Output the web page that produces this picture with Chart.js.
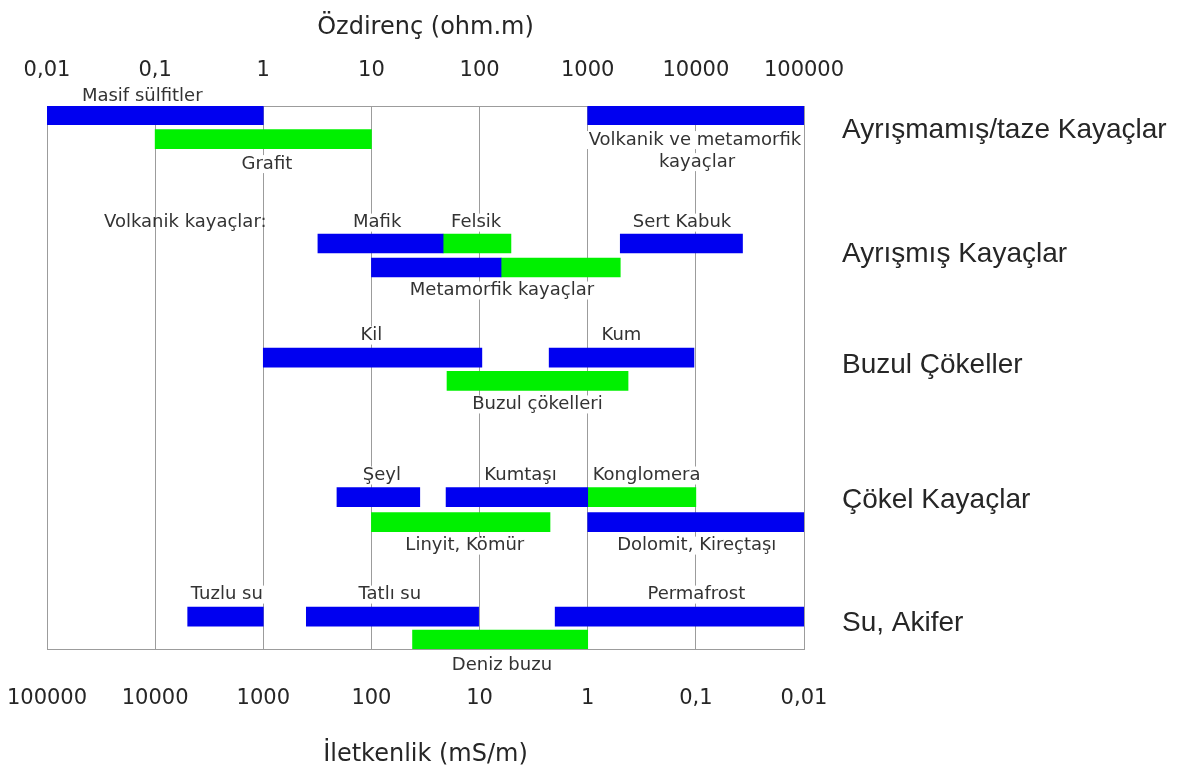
<!DOCTYPE html>
<html lang="tr">
<head>
<meta charset="utf-8">
<title>Özdirenç ve İletkenlik</title>
<script src="https://cdn.jsdelivr.net/npm/chart.js@4.4.1/dist/chart.umd.min.js"></script>
<style>
  html, body { margin: 0; padding: 0; background: #fff; }
  #wrap { position: relative; width: 1185px; height: 773px; }
</style>
</head>
<body>
<div id="wrap"><canvas id="rockChart"></canvas></div>
<script>
// Eksen işaretleri
var resTicks = [0.01, 0.1, 1, 10, 100, 1000, 10000, 100000];
var resTickLabels = ['0,01', '0,1', '1', '10', '100', '1000', '10000', '100000'];
var condTicks = [0.01, 0.1, 1, 10, 100, 1000, 10000, 100000];
var condTickLabels = ['0,01', '0,1', '1', '10', '100', '1000', '10000', '100000'];

// Gruplar (sağdaki yazılar) ve satırları
var groupNames = ['Ayrışmamış/taze Kayaçlar', 'Ayrışmış Kayaçlar', 'Buzul Çökeller', 'Çökel Kayaçlar', 'Su, Akifer'];
var groupRow = [0.98, 6.04, 10.57, 16.08, 21.10];

// Mavi çubuklar - özdirenç aralığı (ohm.m)
var blueNames = ['Masif sülfitler', 'Volkanik ve metamorfik kayaçlar', 'Mafik', 'Sert Kabuk', 'Metamorfik kayaçlar',
                 'Kil', 'Kum', 'Şeyl', 'Kumtaşı', 'Dolomit, Kireçtaşı', 'Tuzlu su', 'Tatlı su', 'Permafrost'];
var blueMin = [0.01, 1000, 3.2, 2000, 10, 1, 440, 4.8, 49, 1000, 0.2, 2.5, 500];
var blueMax = [1, 100000, 46, 27000, 158, 105, 9600, 28, 1000, 100000, 1, 98, 100000];
var blueRow = [0.37, 0.37, 5.61, 5.61, 6.59, 10.27, 10.27, 15.96, 15.96, 16.98, 20.84, 20.84, 20.84];

// Yeşil çubuklar
var greenNames = ['Grafit', 'Felsik', 'Metamorfik kayaçlar', 'Buzul çökelleri', 'Konglomera', 'Linyit, Kömür', 'Deniz buzu'];
var greenMin = [0.1, 46, 158, 50, 1000, 10, 24];
var greenMax = [10, 195, 2000, 2360, 10000, 448, 1000];
var greenRow = [1.35, 5.61, 6.59, 11.22, 15.96, 16.98, 21.78];

// Çubuk yazıları: metin, özdirenç değeri (orta nokta), satır
var noteTexts = ['Masif sülfitler', 'Volkanik ve metamorfik', 'kayaçlar', 'Grafit', 'Volkanik kayaçlar:', 'Mafik', 'Felsik',
                 'Sert Kabuk', 'Metamorfik kayaçlar', 'Kil', 'Kum', 'Buzul çökelleri', 'Şeyl', 'Kumtaşı', 'Konglomera',
                 'Linyit, Kömür', 'Dolomit, Kireçtaşı', 'Tuzlu su', 'Tatlı su', 'Permafrost', 'Deniz buzu'];
var noteAt = [0.076, 9800, 10250, 1.08, 0.19, 11.3, 93, 7450, 161, 10, 2050, 343, 12.5, 239, 3500,
              73, 10200, 0.46, 14.8, 10100, 161];
var noteRow = [-0.41, 1.39, 2.29, 2.37, 4.76, 4.76, 4.76, 4.76, 7.53, 9.37, 9.37, 12.18, 15.08, 15.08, 15.08,
               17.94, 17.94, 19.94, 19.94, 19.94, 22.82];
var plainNotes = ['Volkanik kayaçlar:'];

var gridColor = '#9c9c9c';
var textColor = '#262626';

function toBars(mins, maxs, rows) {
    return mins.map(function (v, i) { return { x: [v, maxs[i]], y: rows[i] }; });
}

var notePlugin = {
    id: 'notes',
    afterDraw: function (chart) {
        var ctx = chart.ctx, xs = chart.scales.x, ys = chart.scales.y;
        ctx.save();
        ctx.font = '18px "DejaVu Sans"';
        ctx.textAlign = 'center';
        ctx.textBaseline = 'middle';
        noteTexts.forEach(function (t, i) {
            var px = xs.getPixelForValue(noteAt[i]);
            var py = ys.getPixelForValue(noteRow[i]);
            if (plainNotes.indexOf(t) < 0) {
                var w = ctx.measureText(t).width;
                ctx.fillStyle = '#ffffff';
                ctx.fillRect(px - w / 2 - 2, py - 9, w + 4, 18);
            }
            ctx.fillStyle = '#333333';
            ctx.fillText(t, px, py);
        });
        ctx.restore();
    }
};

var rockContext = document.getElementById('rockChart').getContext('2d');
var rockChart = new Chart(rockContext, {
    type: 'bar',
    data: {
        datasets: [{
            label: 'Mavi',
            data: toBars(blueMin, blueMax, blueRow),
            backgroundColor: '#0000f0',
            names: blueNames
        }, {
            label: 'Yeşil',
            data: toBars(greenMin, greenMax, greenRow),
            backgroundColor: '#00f000',
            names: greenNames
        }]
    },
    options: {
        indexAxis: 'y',
        responsive: true,
        maintainAspectRatio: false,
        animation: false,
        layout: { padding: { left: 47, right: 0, top: 0, bottom: 0 } },
        datasets: {
            bar: { barThickness: 19, grouped: false, borderWidth: 0, borderSkipped: false }
        },
        plugins: {
            legend: { display: false },
            tooltip: {
                callbacks: {
                    label: function (c) {
                        return c.dataset.names[c.dataIndex] + ': ' + c.raw.x[0] + ' - ' + c.raw.x[1] + ' ohm.m';
                    }
                }
            }
        },
        scales: {
            x: {
                type: 'logarithmic',
                position: 'top',
                min: 0.01,
                max: 100000,
                afterBuildTicks: function (s) { s.ticks = resTicks.map(function (v) { return { value: v }; }); },
                afterFit: function (s) { s.height = 106; },
                grid: { color: gridColor, lineWidth: 1, drawTicks: false },
                border: { display: true, color: gridColor, width: 1 },
                ticks: {
                    autoSkip: false, maxRotation: 0, padding: 23, color: textColor,
                    font: { family: '"DejaVu Sans"', size: 21 },
                    callback: function (v, i) { return resTickLabels[i]; }
                },
                title: {
                    display: true, text: 'Özdirenç (ohm.m)', color: textColor,
                    font: { family: '"DejaVu Sans"', size: 24 },
                    padding: { top: 13, bottom: 0 }
                }
            },
            x2: {
                type: 'logarithmic',
                position: 'bottom',
                reverse: true,
                min: 0.01,
                max: 100000,
                afterBuildTicks: function (s) { s.ticks = condTicks.map(function (v) { return { value: v }; }); },
                afterFit: function (s) { s.height = 124; },
                grid: { display: false, drawTicks: false },
                border: { display: true, color: gridColor, width: 1 },
                ticks: {
                    autoSkip: false, maxRotation: 0, padding: 37, color: textColor,
                    font: { family: '"DejaVu Sans"', size: 21 },
                    callback: function (v, i) { return condTickLabels[i]; }
                },
                title: {
                    display: true, text: 'İletkenlik (mS/m)', color: textColor,
                    font: { family: '"DejaVu Sans"', size: 24 },
                    padding: { top: 0, bottom: 4 }
                }
            },
            y: {
                type: 'linear',
                position: 'right',
                reverse: true,
                offset: false,
                min: 0,
                max: 22.16,
                afterBuildTicks: function (s) { s.ticks = groupRow.map(function (v) { return { value: v }; }); },
                afterFit: function (s) { s.width = 381; },
                grid: { display: false, drawTicks: false },
                border: { display: false },
                ticks: {
                    autoSkip: false, padding: 38, color: textColor,
                    font: { family: '"Liberation Sans"', size: 28 },
                    callback: function (v, i) { return groupNames[i]; }
                }
            }
        }
    },
    plugins: [notePlugin]
});
</script>
</body>
</html>
